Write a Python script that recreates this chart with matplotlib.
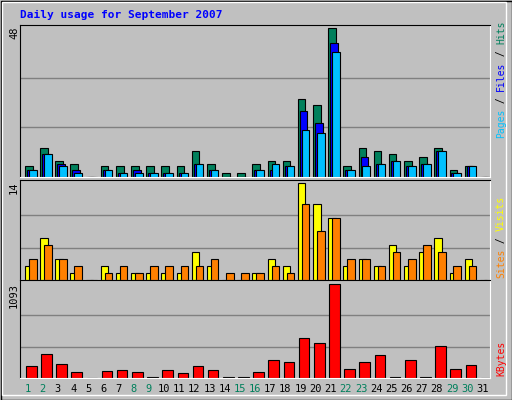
import matplotlib
matplotlib.use("Agg")
import matplotlib.pyplot as plt
from matplotlib.patches import Rectangle

days = list(range(1, 32))
hits = [3.5, 9.3, 5.3, 4.3, 0, 3.5, 3.5, 3.5, 3.5, 3.5, 3.5, 8.3, 4.3, 1.4, 1.4, 4.3,
        5.3, 5.3, 25.2, 23.3, 48, 3.5, 9.3, 8.3, 7.3, 5.3, 6.3, 9.3, 2.4, 3.4, 0]
files = [2.4, 7.3, 4.3, 2.4, 0, 2.4, 1.4, 2.4, 1.4, 1.4, 1.4, 4.3, 2.4, 0, 0, 2.4,
         2.4, 3.4, 21.3, 17.4, 43.2, 2.4, 6.3, 4.3, 5.3, 3.4, 4.3, 8.3, 1.4, 3.4, 0]
pages = [2.4, 7.3, 3.4, 1.4, 0, 2.4, 1.4, 1.4, 1.4, 1.4, 1.4, 4.3, 2.4, 0, 0, 2.4,
         4.3, 3.4, 15.1, 14.1, 40.2, 2.4, 3.4, 4.3, 5.3, 3.4, 4.3, 8.3, 1.4, 3.4, 0]
sites = [2, 6, 3, 1, 0, 2, 1, 1, 1, 1, 1, 4, 2, 0, 0, 1,
         3, 2, 14, 11, 9, 2, 3, 2, 5, 2, 4, 6, 1, 3, 0]
visits = [3, 5, 3, 2, 0, 1, 2, 1, 2, 2, 2, 2, 3, 1, 1, 1,
          2, 1, 11, 7, 9, 3, 3, 2, 4, 3, 5, 4, 2, 2, 0]
kbytes = [144, 276, 168, 72, 0, 84, 96, 72, 12, 96, 60, 144, 96, 12, 12, 72,
          204, 180, 468, 408, 1093, 108, 180, 264, 12, 204, 12, 372, 108, 156, 0]
weekends = [1, 2, 8, 9, 15, 16, 22, 23, 29, 30]

W, H = 512, 400
BG = '#C0C0C0'
fig = plt.figure(figsize=(W / 100, H / 100), dpi=100)
fig.patch.set_facecolor(BG)
fig.patches.append(Rectangle((0.5 / W, 0.5 / H), 1 - 1 / W, 1 - 1 / H, transform=fig.transFigure,
                             fill=False, edgecolor='black', lw=1))
fig.patches.append(Rectangle((2 / W, 5 / H), 1 - 8 / W, 1 - 7 / H, transform=fig.transFigure,
                             fill=False, edgecolor='white', lw=1))


def make_ax(top, bottom):
    ax = fig.add_axes([20 / W, 1 - bottom / H, 470 / W, (bottom - top) / H])
    ax.set_facecolor(BG)
    ax.set_xlim(0, 31)
    ax.set_xticks([])
    ax.set_yticks([])
    for s in ax.spines.values():
        s.set_color('black')
    ax.spines['right'].set_color('white')
    ax.spines['bottom'].set_color('white')
    return ax


def bars(ax, vals, offset, width, color):
    x = [d - 1 + offset for d in days]
    ax.bar(x, vals, width=width, align='edge', color=color, edgecolor='black', linewidth=0.8)


ax1 = make_ax(25, 177)
ax1.set_ylim(0, 48 * 1.02)
for g in (16, 32):
    ax1.axhline(g, color='#808080', lw=1, zorder=0)
bars(ax1, hits, 0.33, 0.5, '#00805C')
bars(ax1, files, 0.46, 0.5, '#0000FF')
bars(ax1, pages, 0.59, 0.5, '#00C0FF')

ax2 = make_ax(180, 280)
ax2.set_ylim(0, 14 * 1.03)
for g in (14 / 3, 28 / 3):
    ax2.axhline(g, color='#808080', lw=1, zorder=0)
bars(ax2, sites, 0.33, 0.5, '#FFFF00')
bars(ax2, visits, 0.59, 0.5, '#FF8000')

ax3 = make_ax(280, 378)
ax3.set_ylim(0, 1093 * 1.04)
for g in (1093 / 3, 2186 / 3):
    ax3.axhline(g, color='#808080', lw=1, zorder=0)
bars(ax3, kbytes, 0.39, 0.7, '#FF0000')

mono = 'DejaVu Sans Mono'
fig.text(20 / W, 1 - 15 / H, 'Daily usage for September 2007', color='#0000FF', family=mono,
         fontsize=8, fontweight='bold', va='center')

for d in days:
    c = '#00805C' if d in weekends else 'black'
    fig.text((20 + (d - 0.5) * 470 / 31) / W, 1 - 389 / H, str(d), color=c, family=mono,
             fontsize=7.5, ha='center', va='center')

for label, y in (('48', 33), ('14', 188), ('1093', 295)):
    fig.text(14 / W, 1 - y / H, label, rotation=90, family=mono, fontsize=7.5,
             ha='center', va='center')

renderer = fig.canvas.get_renderer()


def side_label(parts, bottom_y):
    # stack coloured pieces upward, measuring each one
    y = bottom_y
    for txt, col in parts:
        t = fig.text(501 / W, 1 - y / H, txt, rotation=90, color=col, family=mono,
                     fontsize=7, ha='center', va='bottom')
        y -= t.get_window_extent(renderer).height


side_label([('Pages', '#00C0FF'), (' / ', 'black'), ('Files', '#0000FF'), (' / ', 'black'),
            ('Hits', '#00805C')], 138)
side_label([('Sites', '#FF8000'), (' / ', 'black'), ('Visits', '#FFFF00')], 278)
side_label([('KBytes', '#FF0000')], 376)

fig.savefig('out.png', dpi=100, facecolor=BG)
